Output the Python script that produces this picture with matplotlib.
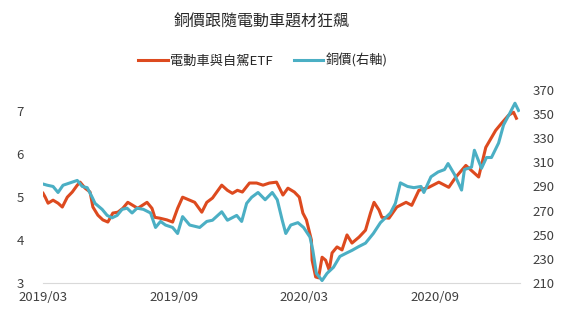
import pandas as pd
import matplotlib.pyplot as plt
import matplotlib.dates as mdates

plt.rcParams['font.family'] = ['Noto Sans CJK TC', 'DejaVu Sans']

# 電動車與自駕ETF (left axis)
etf_dates = ["2019-03-01", "2019-03-04", "2019-03-08", "2019-03-15", "2019-03-22", "2019-03-28",
             "2019-04-04", "2019-04-11", "2019-04-18", "2019-04-22", "2019-04-29", "2019-05-06",
             "2019-05-10", "2019-05-17", "2019-05-24", "2019-05-31", "2019-06-07", "2019-06-14",
             "2019-06-21", "2019-06-28", "2019-07-05", "2019-07-12", "2019-07-25", "2019-08-01",
             "2019-08-05", "2019-08-12", "2019-08-22", "2019-08-30", "2019-09-06", "2019-09-13",
             "2019-09-23", "2019-09-30", "2019-10-10", "2019-10-17", "2019-10-25", "2019-11-07",
             "2019-11-15", "2019-11-22", "2019-11-29", "2019-12-06", "2019-12-16", "2019-12-26",
             "2020-01-04", "2020-01-13", "2020-01-23", "2020-02-01", "2020-02-08", "2020-02-17",
             "2020-02-24", "2020-02-29", "2020-03-05", "2020-03-12", "2020-03-13", "2020-03-18",
             "2020-03-22", "2020-03-27", "2020-04-01", "2020-04-06", "2020-04-10", "2020-04-17",
             "2020-04-24", "2020-05-01", "2020-05-08", "2020-05-18", "2020-05-27", "2020-06-03",
             "2020-06-08", "2020-06-15", "2020-06-19", "2020-06-29", "2020-07-10", "2020-07-23",
             "2020-07-31", "2020-08-10", "2020-08-24", "2020-09-07", "2020-09-21", "2020-10-01",
             "2020-10-15", "2020-11-02", "2020-11-12", "2020-11-26", "2020-12-04", "2020-12-14",
             "2020-12-21", "2020-12-25"]
etf_values = [5.09, 5.00, 4.86, 4.93, 4.86, 4.77,
              5.00, 5.12, 5.28, 5.35, 5.21, 5.12,
              4.77, 4.58, 4.47, 4.42, 4.63, 4.65,
              4.74, 4.88, 4.81, 4.74, 4.88, 4.74,
              4.53, 4.51, 4.47, 4.42, 4.74, 5.00,
              4.93, 4.88, 4.65, 4.88, 4.98, 5.28,
              5.16, 5.09, 5.16, 5.12, 5.33, 5.33,
              5.28, 5.33, 5.35, 5.05, 5.21, 5.12,
              5.00, 4.63, 4.47, 4.00, 3.53, 3.14,
              3.12, 3.60, 3.53, 3.30, 3.70, 3.84,
              3.77, 4.12, 3.93, 4.07, 4.23, 4.63,
              4.88, 4.70, 4.53, 4.51, 4.77, 4.88,
              4.81, 5.16, 5.23, 5.35, 5.23, 5.47,
              5.74, 5.47, 6.16, 6.56, 6.72, 6.91,
              6.98, 6.84]

# 銅價 (right axis)
cu_dates = ["2019-03-01", "2019-03-07", "2019-03-15", "2019-03-22", "2019-03-29", "2019-04-08",
            "2019-04-18", "2019-04-25", "2019-05-02", "2019-05-09", "2019-05-13", "2019-05-23",
            "2019-05-30", "2019-06-06", "2019-06-13", "2019-06-20", "2019-06-27", "2019-07-04",
            "2019-07-11", "2019-07-20", "2019-07-30", "2019-08-06", "2019-08-13", "2019-08-20",
            "2019-08-30", "2019-09-06", "2019-09-13", "2019-09-23", "2019-10-07", "2019-10-17",
            "2019-10-25", "2019-11-07", "2019-11-15", "2019-11-28", "2019-12-05", "2019-12-12",
            "2019-12-19", "2019-12-28", "2020-01-07", "2020-01-17", "2020-01-24", "2020-01-31",
            "2020-02-05", "2020-02-12", "2020-02-22", "2020-03-01", "2020-03-10", "2020-03-14",
            "2020-03-19", "2020-03-27", "2020-04-03", "2020-04-12", "2020-04-21", "2020-05-01",
            "2020-05-08", "2020-05-17", "2020-05-27", "2020-06-07", "2020-06-17", "2020-07-01",
            "2020-07-08", "2020-07-15", "2020-07-25", "2020-08-03", "2020-08-13", "2020-08-17",
            "2020-08-27", "2020-09-06", "2020-09-15", "2020-09-20", "2020-09-29", "2020-10-09",
            "2020-10-13", "2020-10-23", "2020-10-27", "2020-11-06", "2020-11-13", "2020-11-20",
            "2020-11-30", "2020-12-07", "2020-12-16", "2020-12-23", "2020-12-28"]
cu_values = [292, 291, 290, 285, 291, 293,
             295, 290, 289, 281, 276, 271,
             266, 264, 266, 271, 272, 268,
             272, 271, 268, 256, 261, 258,
             256, 251, 265, 258, 256, 261,
             262, 269, 262, 266, 261, 276,
             281, 285, 279, 285, 279, 262,
             251, 258, 260, 256, 248, 237,
             218, 212, 218, 223, 232, 235,
             237, 240, 243, 251, 260, 268,
             276, 293, 290, 289, 290, 285,
             298, 302, 304, 309, 300, 287,
             304, 306, 320, 305, 314, 314,
             326, 341, 351, 359, 353]

etf_x = pd.to_datetime(etf_dates)
cu_x = pd.to_datetime(cu_dates)

fig = plt.figure(figsize=(5.67, 3.19), dpi=100)
ax = fig.add_axes([0.076, 0.113, 0.841, 0.605])
ax2 = ax.twinx()

l1, = ax.plot(etf_x, etf_values, color="#DD4A1F", linewidth=2.2, label="電動車與自駕ETF")
l2, = ax2.plot(cu_x, cu_values, color="#4BAFC4", linewidth=2.2, label="銅價(右軸)")

ax.set_ylim(3, 7.5)
ax.set_yticks([3, 4, 5, 6, 7])
ax2.set_ylim(210, 370)
ax2.set_yticks(range(210, 371, 20))
ax.set_xlim(pd.Timestamp("2019-03-01"), pd.Timestamp("2020-12-30"))
ax.xaxis.set_major_locator(mdates.MonthLocator(bymonth=[3, 9]))
ax.xaxis.set_major_formatter(mdates.DateFormatter("%Y/%m"))

for a in (ax, ax2):
    for s in a.spines.values():
        s.set_visible(False)
    a.tick_params(length=0, labelsize=9.5, colors="#404040")
ax.spines["bottom"].set_visible(True)
ax.spines["bottom"].set_color("#D9D9D9")
ax.tick_params(axis="x", pad=6)
ax.tick_params(axis="y", pad=14)
ax2.tick_params(axis="y", pad=9)

fig.text(0.462, 0.93, "銅價跟隨電動車題材狂飆", ha="center", va="center",
         fontsize=11.5, color="#262626")
fig.legend(handles=[l1, l2], loc="center", bbox_to_anchor=(0.464, 0.81), ncol=2,
           frameon=False, fontsize=9.5, handlelength=2.2, handletextpad=0.2,
           columnspacing=1.6, labelcolor="#262626")

fig.savefig("out.png", dpi=100)
